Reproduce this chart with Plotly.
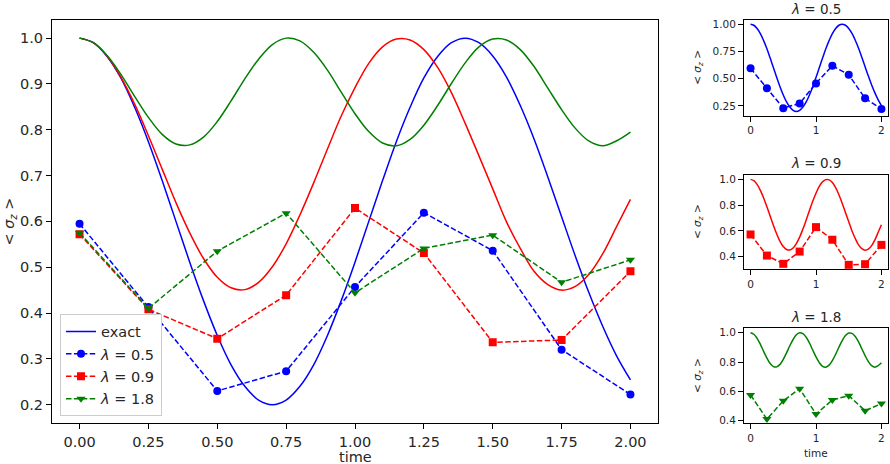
import plotly.graph_objects as go

# exact curves, every 0.05 in time
t_exact = [0.00, 0.05, 0.10, 0.15, 0.20, 0.25, 0.30, 0.35, 0.40, 0.45,
           0.50, 0.55, 0.60, 0.65, 0.70, 0.75, 0.80, 0.85, 0.90, 0.95,
           1.00, 1.05, 1.10, 1.15, 1.20, 1.25, 1.30, 1.35, 1.40, 1.45,
           1.50, 1.55, 1.60, 1.65, 1.70, 1.75, 1.80, 1.85, 1.90, 1.95, 2.00]
exact_05 = [1.000, 0.990, 0.960, 0.913, 0.849, 0.774, 0.689, 0.600, 0.511, 0.427,
            0.351, 0.287, 0.240, 0.210, 0.200, 0.210, 0.240, 0.287, 0.351, 0.427,
            0.511, 0.600, 0.689, 0.774, 0.849, 0.913, 0.960, 0.990, 1.000, 0.990,
            0.961, 0.915, 0.853, 0.780, 0.697, 0.610, 0.524, 0.443, 0.370, 0.306, 0.254]
exact_09 = [1.000, 0.990, 0.961, 0.915, 0.856, 0.787, 0.714, 0.641, 0.575, 0.519,
            0.478, 0.455, 0.451, 0.467, 0.501, 0.551, 0.614, 0.684, 0.758, 0.830,
            0.892, 0.945, 0.981, 0.998, 0.996, 0.975, 0.936, 0.881, 0.814, 0.743,
            0.671, 0.599, 0.541, 0.491, 0.462, 0.450, 0.458, 0.485, 0.530, 0.589, 0.648]
exact_18 = [1.000, 0.990, 0.962, 0.921, 0.873, 0.827, 0.790, 0.769, 0.767, 0.784,
            0.818, 0.863, 0.911, 0.954, 0.986, 1.000, 0.994, 0.969, 0.930, 0.882,
            0.835, 0.796, 0.771, 0.765, 0.779, 0.810, 0.853, 0.901, 0.946, 0.981,
            0.998, 0.996, 0.975, 0.938, 0.891, 0.844, 0.803, 0.775, 0.765, 0.776, 0.795]

# simulated points
t_sim = [0.00, 0.25, 0.50, 0.75, 1.00, 1.25, 1.50, 1.75, 2.00]
sim_05 = [0.595, 0.413, 0.230, 0.273, 0.457, 0.619, 0.536, 0.320, 0.222]
sim_09 = [0.572, 0.408, 0.344, 0.439, 0.629, 0.531, 0.336, 0.341, 0.491]
sim_18 = [0.575, 0.410, 0.535, 0.618, 0.444, 0.541, 0.570, 0.467, 0.516]

labels = ["<i>λ</i> = 0.5", "<i>λ</i> = 0.9", "<i>λ</i> = 1.8"]
colors = ["#0000ff", "#ff0000", "#008000"]
symbols = ["circle", "square", "triangle-down"]
exacts = [exact_05, exact_09, exact_18]
sims = [sim_05, sim_09, sim_18]

W, H = 890, 464
FONT = "DejaVu Sans"
TXT = "#262626"
ylab = "&lt; <i>σ</i><sub><i>z</i></sub> &gt;"

fig = go.Figure()

# main panel
for i in range(3):
    fig.add_trace(go.Scatter(
        x=t_exact, y=exacts[i], mode="lines", line_shape="spline",
        line=dict(color=colors[i], width=1.5),
        name="exact", showlegend=(i == 0), legendrank=1, legendgroup="g0",
        xaxis="x", yaxis="y"))
for i in range(3):
    fig.add_trace(go.Scatter(
        x=t_sim, y=sims[i], mode="lines+markers",
        line=dict(color=colors[i], width=1.5, dash="5.5px,2.4px"),
        marker=dict(symbol=symbols[i], size=8, color=colors[i]),
        name=labels[i], legendrank=2 + i, legendgroup="g%d" % (i + 1),
        xaxis="x", yaxis="y"))

# small panels on the right
for i in range(3):
    xa, ya = "x%d" % (i + 2), "y%d" % (i + 2)
    fig.add_trace(go.Scatter(
        x=t_exact, y=exacts[i], mode="lines", line_shape="spline",
        line=dict(color=colors[i], width=1.5), showlegend=False,
        xaxis=xa, yaxis=ya))
    fig.add_trace(go.Scatter(
        x=t_sim, y=sims[i], mode="lines+markers",
        line=dict(color=colors[i], width=1.5, dash="5.5px,2.4px"),
        marker=dict(symbol=symbols[i], size=8, color=colors[i]),
        showlegend=False, xaxis=xa, yaxis=ya))

axis_common = dict(showline=True, mirror=True, linecolor="black", linewidth=1,
                   ticks="outside", ticklen=5, tickwidth=1, tickcolor="black",
                   showgrid=False, zeroline=False)
px = lambda v: v / W
py = lambda v: 1 - v / H

main_font = dict(family=FONT, size=14.5, color=TXT)
small_font = dict(family=FONT, size=10.5, color=TXT)

sub_dom_x = [px(744), px(888)]
sub_boxes = [(18, 115), (175, 270), (330, 426)]
sub_ranges = [[0.16, 1.04], [0.303, 1.033], [0.3805, 1.0295]]
sub_ticks = [[0.25, 0.5, 0.75, 1.0], [0.4, 0.6, 0.8, 1.0], [0.4, 0.6, 0.8, 1.0]]
sub_fmt = [".2f", ".1f", ".1f"]

layout = dict(
    width=W, height=H, margin=dict(l=0, r=0, t=0, b=0),
    paper_bgcolor="white", plot_bgcolor="white",
    font=dict(family=FONT, color=TXT),
    xaxis=dict(domain=[px(52), px(658)], anchor="y", range=[-0.1, 2.1],
               tickvals=t_sim, tickformat=".2f", tickfont=main_font, **axis_common),
    yaxis=dict(domain=[py(426), py(18)], anchor="x", range=[0.159, 1.040],
               dtick=0.1, tick0=0, tickformat=".1f", tickfont=main_font, **axis_common),
    legend=dict(x=px(60), y=py(419), xanchor="left", yanchor="bottom",
                bgcolor="white", bordercolor="#cccccc", borderwidth=1,
                font=main_font, tracegroupgap=0.6, traceorder="grouped"),
    showlegend=True,
)
for i in range(3):
    top, bot = sub_boxes[i]
    layout["xaxis%d" % (i + 2)] = dict(domain=sub_dom_x, anchor="y%d" % (i + 2),
                                       range=[-0.1, 2.1], tickvals=[0, 1, 2],
                                       tickfont=small_font, **axis_common)
    layout["yaxis%d" % (i + 2)] = dict(domain=[py(bot), py(top)], anchor="x%d" % (i + 2),
                                       range=sub_ranges[i], tickvals=sub_ticks[i],
                                       tickformat=sub_fmt[i], tickfont=small_font,
                                       **axis_common)
fig.update_layout(**layout)

# titles and axis labels
notes = [
    dict(text="time", x=px(355), y=py(460), font=main_font),
    dict(text=ylab, x=px(10), y=py(222), font=main_font, textangle=-90),
    dict(text="time", x=px(816), y=py(456), font=small_font),
]
title_y = [7, 163, 318]
for i in range(3):
    top, bot = sub_boxes[i]
    notes.append(dict(text=labels[i], x=px(816), y=py(title_y[i]),
                      font=dict(family=FONT, size=13.5, color=TXT)))
    notes.append(dict(text=ylab, x=px(698), y=py((top + bot) / 2),
                      font=small_font, textangle=-90))
for n in notes:
    fig.add_annotation(xref="paper", yref="paper", showarrow=False,
                       xanchor="center", yanchor="middle", **n)

# drop the page's default body margin so the figure sits in the window corner
fig.write_html("out.html", config={"displayModeBar": False},
               post_script="document.body.style.margin='0';")
